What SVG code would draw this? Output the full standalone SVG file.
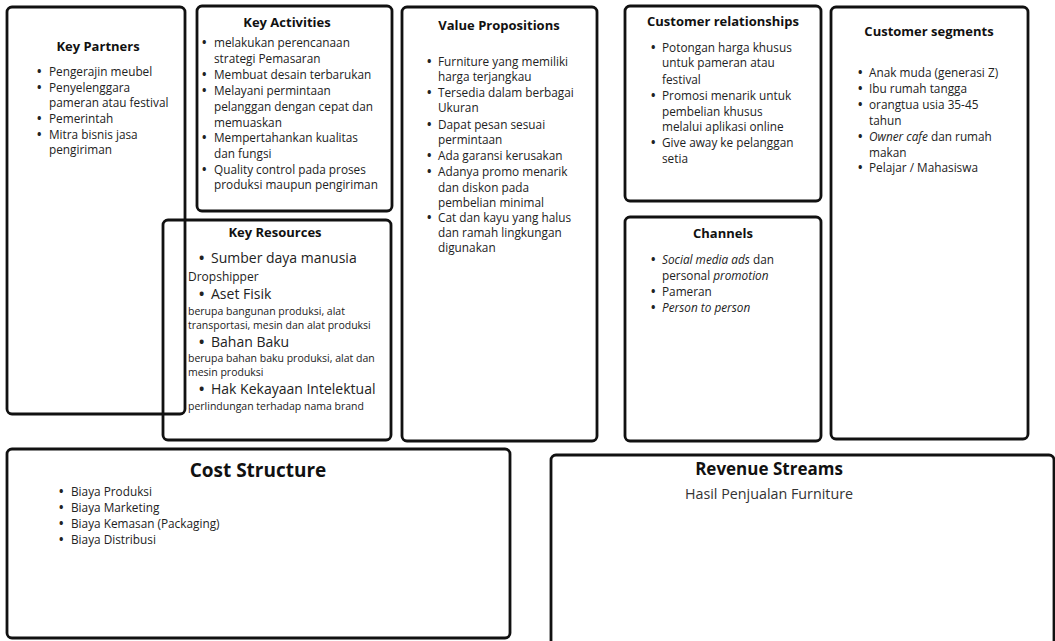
<svg xmlns="http://www.w3.org/2000/svg" width="1055" height="641" viewBox="0 0 1055 641">
<style>
.box{fill:none;stroke:#111;stroke-width:2.8}
.t{font-family:"Open Sans","Liberation Sans",sans-serif;font-weight:700;fill:#111;text-anchor:middle}
.h13{font-size:13px}
.b{font-family:"Open Sans","Liberation Sans",sans-serif;font-size:11.8px;fill:#222}
.big{font-family:"Open Sans","Liberation Sans",sans-serif;font-size:14px;fill:#222}
.sm{font-family:"Open Sans","Liberation Sans",sans-serif;font-size:10.5px;fill:#222}
.i{font-style:italic}
.d{font-weight:700}
</style>
<rect width="1055" height="641" fill="#fff"/>

<g id="key-partners">
<rect class="box" x="7" y="7" width="178" height="407" rx="5"/>
<text class="t h13" x="98" y="51">Key Partners</text>
<g class="b">
<text x="37" y="76"><tspan class="d">•</tspan><tspan x="49">Pengerajin meubel</tspan></text>
<text x="37" y="92"><tspan class="d">•</tspan><tspan x="49">Penyelenggara</tspan></text>
<text x="49" y="107">pameran atau festival</text>
<text x="37" y="123"><tspan class="d">•</tspan><tspan x="49">Pemerintah</tspan></text>
<text x="37" y="139"><tspan class="d">•</tspan><tspan x="49">Mitra bisnis jasa</tspan></text>
<text x="49" y="154">pengiriman</text>
</g>
</g>

<g id="key-activities">
<rect class="box" x="197" y="6" width="195" height="205" rx="5"/>
<text class="t h13" x="287" y="27">Key Activities</text>
<g class="b">
<text x="202" y="47"><tspan class="d">•</tspan><tspan x="214">melakukan perencanaan</tspan></text>
<text x="214" y="63">strategi Pemasaran</text>
<text x="202" y="79"><tspan class="d">•</tspan><tspan x="214">Membuat desain terbarukan</tspan></text>
<text x="202" y="95"><tspan class="d">•</tspan><tspan x="214">Melayani permintaan</tspan></text>
<text x="214" y="111">pelanggan dengan cepat dan</text>
<text x="214" y="127">memuaskan</text>
<text x="202" y="142"><tspan class="d">•</tspan><tspan x="214">Mempertahankan kualitas</tspan></text>
<text x="214" y="158">dan fungsi</text>
<text x="202" y="174"><tspan class="d">•</tspan><tspan x="214">Quality control pada proses</tspan></text>
<text x="214" y="189">produksi maupun pengiriman</text>
</g>
</g>

<g id="key-resources">
<rect class="box" x="163" y="220" width="228" height="220" rx="5"/>
<text class="t h13" x="275" y="237">Key Resources</text>
<text class="big" x="199" y="263"><tspan class="d">•</tspan><tspan x="211">Sumber daya manusia</tspan></text>
<text class="b" x="188" y="281" style="font-size:12px">Dropshipper</text>
<text class="big" x="199" y="299"><tspan class="d">•</tspan><tspan x="211">Aset Fisik</tspan></text>
<text class="sm" x="188" y="315">berupa bangunan produksi,  alat</text>
<text class="sm" x="188" y="329">transportasi, mesin dan alat produksi</text>
<text class="big" x="199" y="347"><tspan class="d">•</tspan><tspan x="211">Bahan Baku</tspan></text>
<text class="sm" x="188" y="362">berupa bahan baku produksi, alat dan</text>
<text class="sm" x="188" y="376">mesin produksi</text>
<text class="big" x="199" y="394"><tspan class="d">•</tspan><tspan x="211">Hak Kekayaan Intelektual</tspan></text>
<text class="sm" x="188" y="410">perlindungan terhadap nama brand</text>
</g>

<g id="value-propositions">
<rect class="box" x="402" y="7" width="195" height="434" rx="5"/>
<text class="t h13" x="499" y="30">Value Propositions</text>
<g class="b">
<text x="427" y="66"><tspan class="d">•</tspan><tspan x="438">Furniture yang memiliki</tspan></text>
<text x="438" y="81">harga terjangkau</text>
<text x="427" y="97"><tspan class="d">•</tspan><tspan x="438">Tersedia dalam berbagai</tspan></text>
<text x="438" y="112">Ukuran</text>
<text x="427" y="129"><tspan class="d">•</tspan><tspan x="438">Dapat pesan sesuai</tspan></text>
<text x="438" y="144">permintaan</text>
<text x="427" y="160"><tspan class="d">•</tspan><tspan x="438">Ada garansi kerusakan</tspan></text>
<text x="427" y="176"><tspan class="d">•</tspan><tspan x="438">Adanya promo menarik</tspan></text>
<text x="438" y="192">dan diskon pada</text>
<text x="438" y="207">pembelian minimal</text>
<text x="427" y="222"><tspan class="d">•</tspan><tspan x="438">Cat dan kayu yang halus</tspan></text>
<text x="438" y="237">dan ramah lingkungan</text>
<text x="438" y="252">digunakan</text>
</g>
</g>

<g id="customer-relationships">
<rect class="box" x="625" y="6" width="196" height="195" rx="5"/>
<text class="t h13" x="723" y="26">Customer relationships</text>
<g class="b">
<text x="651" y="52"><tspan class="d">•</tspan><tspan x="662">Potongan harga khusus</tspan></text>
<text x="662" y="67">untuk pameran atau</text>
<text x="662" y="84">festival</text>
<text x="651" y="100"><tspan class="d">•</tspan><tspan x="662">Promosi menarik untuk</tspan></text>
<text x="662" y="116">pembelian khusus</text>
<text x="662" y="131">melalui aplikasi online</text>
<text x="651" y="147"><tspan class="d">•</tspan><tspan x="662">Give away ke pelanggan</tspan></text>
<text x="662" y="163">setia</text>
</g>
</g>

<g id="channels">
<rect class="box" x="625" y="217" width="196" height="224" rx="5"/>
<text class="t h13" x="723" y="238">Channels</text>
<g class="b">
<text x="651" y="264"><tspan class="d">•</tspan><tspan x="662" class="i">Social media ads</tspan><tspan>  dan</tspan></text>
<text x="662" y="280">personal <tspan class="i">promotion</tspan></text>
<text x="651" y="296"><tspan class="d">•</tspan><tspan x="662">Pameran</tspan></text>
<text x="651" y="312"><tspan class="d">•</tspan><tspan x="662" class="i">Person to person</tspan></text>
</g>
</g>

<g id="customer-segments">
<rect class="box" x="831" y="7" width="197" height="432" rx="5"/>
<text class="t h13" x="929" y="36">Customer segments</text>
<g class="b">
<text x="858" y="77"><tspan class="d">•</tspan><tspan x="869">Anak muda (generasi Z)</tspan></text>
<text x="858" y="93"><tspan class="d">•</tspan><tspan x="869">Ibu rumah tangga</tspan></text>
<text x="858" y="109"><tspan class="d">•</tspan><tspan x="869">orangtua usia 35-45</tspan></text>
<text x="869" y="125">tahun</text>
<text x="858" y="141"><tspan class="d">•</tspan><tspan x="869" class="i">Owner cafe</tspan><tspan> dan rumah</tspan></text>
<text x="869" y="157">makan</text>
<text x="858" y="172"><tspan class="d">•</tspan><tspan x="869">Pelajar / Mahasiswa</tspan></text>
</g>
</g>

<g id="cost-structure">
<rect class="box" x="7" y="449" width="503" height="189" rx="5"/>
<text class="t" x="258" y="477" style="font-size:19px">Cost Structure</text>
<g class="b">
<text x="59" y="496"><tspan class="d">•</tspan><tspan x="71">Biaya Produksi</tspan></text>
<text x="59" y="512"><tspan class="d">•</tspan><tspan x="71">Biaya Marketing</tspan></text>
<text x="59" y="528"><tspan class="d">•</tspan><tspan x="71">Biaya Kemasan (Packaging)</tspan></text>
<text x="59" y="544"><tspan class="d">•</tspan><tspan x="71">Biaya Distribusi</tspan></text>
</g>
</g>

<g id="revenue-streams">
<rect class="box" x="551" y="455" width="503" height="210" rx="5"/>
<text class="t" x="769" y="475" style="font-size:17px">Revenue Streams</text>
<text x="769" y="499" style="font-family:'Open Sans','Liberation Sans',sans-serif;font-size:14.3px;fill:#333;text-anchor:middle">Hasil Penjualan Furniture</text>
</g>

<g id="connectors"/>
</svg>
